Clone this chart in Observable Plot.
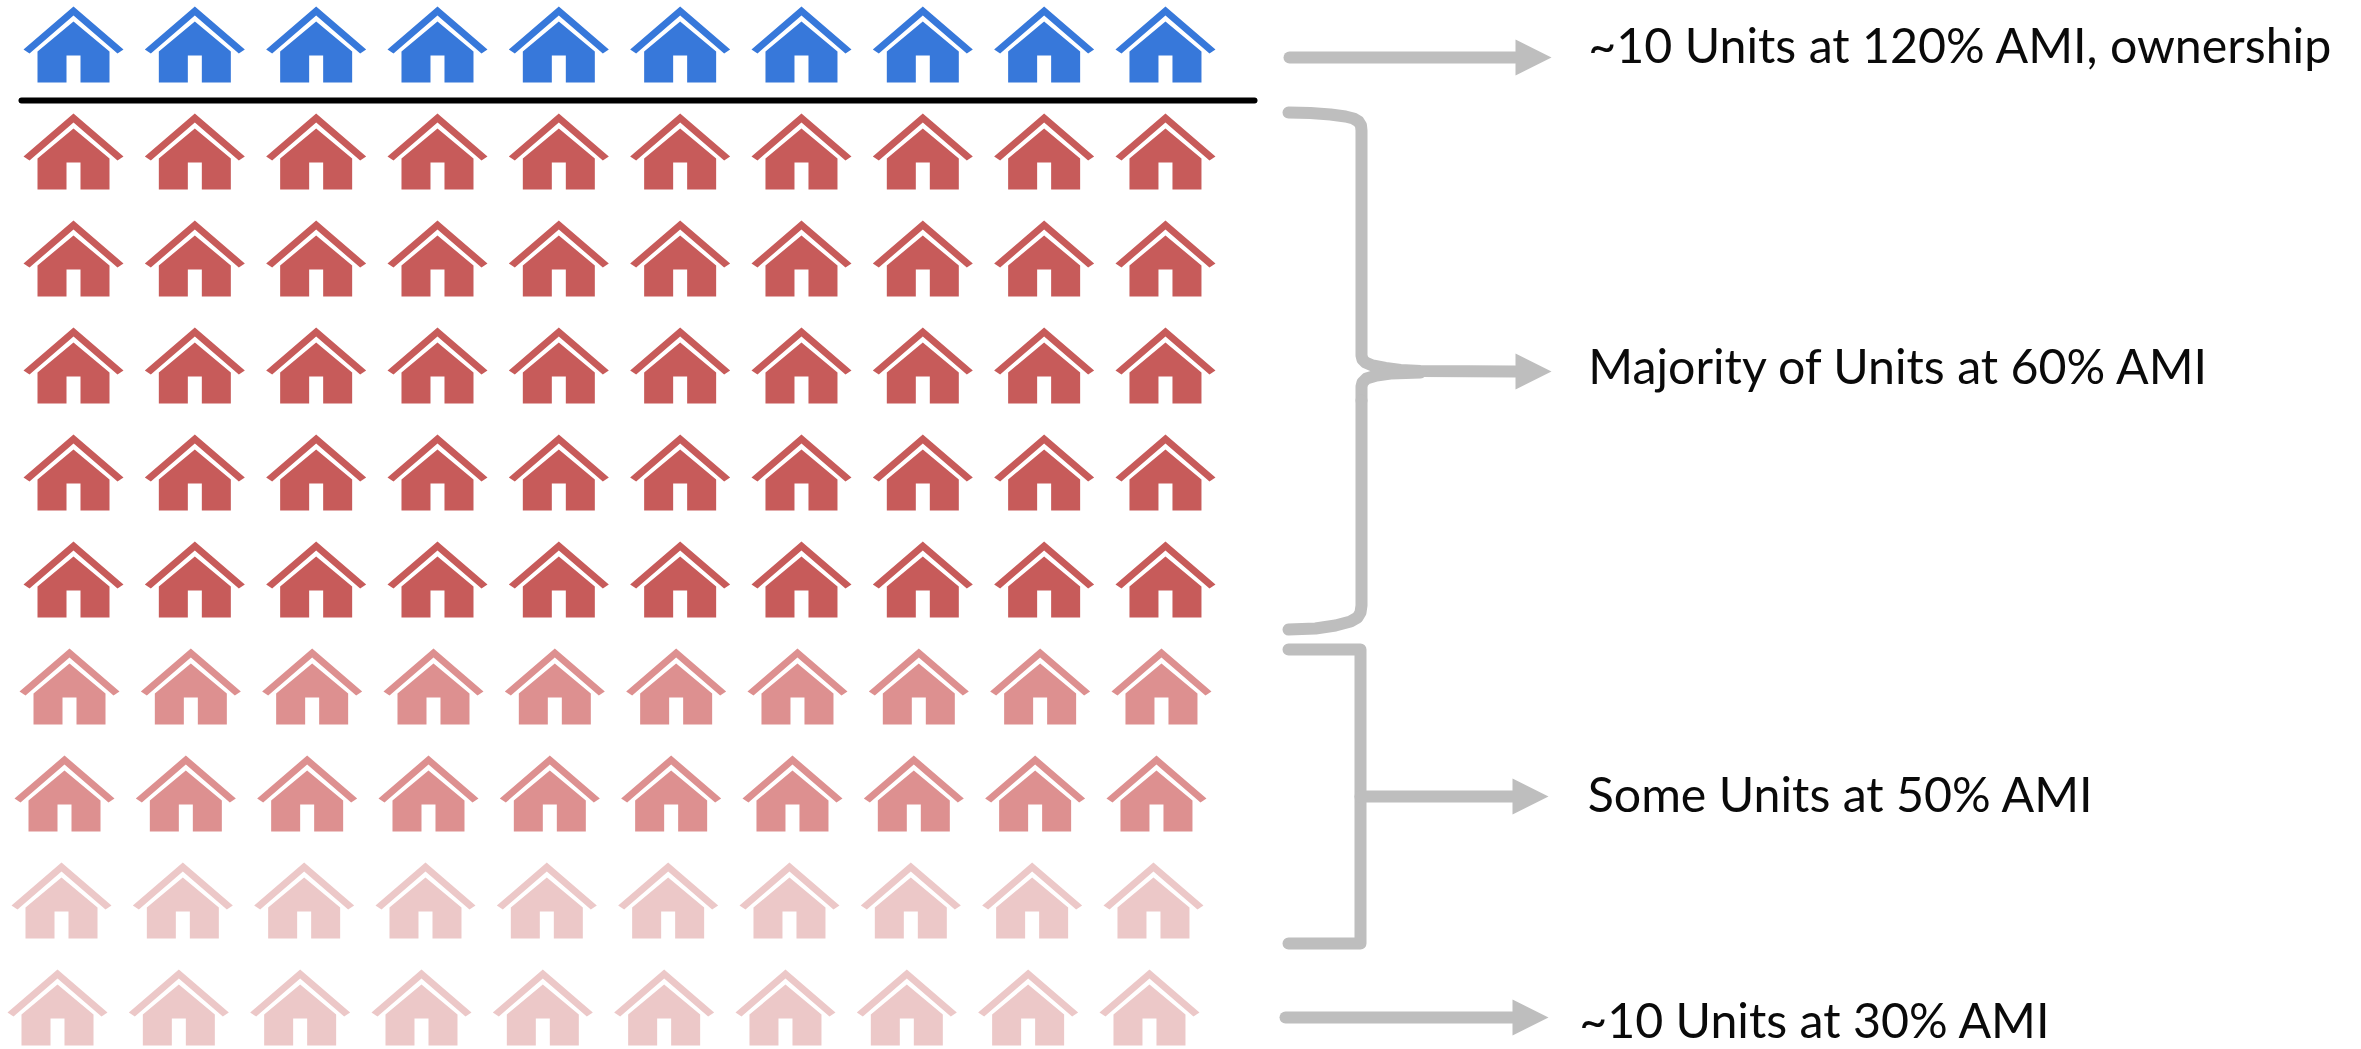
<!DOCTYPE html>
<html>
<head>
<meta charset="utf-8">
<script src="https://cdn.jsdelivr.net/npm/d3@7"></script>
<script src="https://cdn.jsdelivr.net/npm/@observablehq/plot@0.6"></script>
<style>
  html, body { margin: 0; padding: 0; background: #fff; }
  svg { display: block; }
</style>
</head>
<body>
<div id="chart"></div>
<script>
// One pictogram row per block of ten homes, top to bottom.
const columns = d3.range(10);
const rowShades = ["ownership", "deep", "deep", "deep", "deep", "deep", "mid", "mid", "pale", "pale"];
const shadeNames = ["ownership", "deep", "mid", "pale"];
const shadeColors = ["#3778da", "#c75b5a", "#dd9090", "#ecc8c8"];

// Horizontal drift of each row, in pixels.
const rowNudge = [0, 0, 0, 0, 0, 0, -4, -9, -12, -16];

const labels = ["~10 Units at 120% AMI, ownership", "Majority of Units at 60% AMI", "Some Units at 50% AMI", "~10 Units at 30% AMI"];
const labelRows = [0.03, 3.03, 7.03, 9.14];
const labelCols = [12.485, 12.485, 12.48, 12.41];

const homes = rowShades.flatMap((shade, row) => columns.map((col) => ({col, row, shade})));

// Pixel mapping of the grid: column centres and row centres.
const colStep = 121.33, rowStep = 107;
const colOf = (px) => (px - 73) / colStep;
const rowOf = (py) => (py - 44) / rowStep;

// Home glyph: chevron roof above a body with a door notch, 100px wide.
const house = {
  draw(ctx, size) {
    const k = Math.sqrt(size) / 100;
    const poly = (pts) => {
      pts.forEach(([a, b], i) => (i ? ctx.lineTo(a * k, b * k) : ctx.moveTo(a * k, b * k)));
      ctx.closePath();
    };
    poly([[0, -38], [50, 5], [44, 9], [0, -29], [-44, 9], [-50, 5]]);
    poly([[0, -23], [36, 7], [36, 38], [7, 38], [7, 11], [-7, 11], [-7, 38], [-36, 38], [-36, 7]]);
  }
};

// Arrow head pointing right, tip at +18, base at -18.
const head = {
  draw(ctx, size) {
    const k = Math.sqrt(size) / 36;
    ctx.moveTo(18 * k, 0);
    ctx.lineTo(-18 * k, -18 * k);
    ctx.lineTo(-18 * k, 18 * k);
    ctx.closePath();
  }
};

const gray = "#bebebe";
const P = ([px, py]) => ({c: colOf(px), r: rowOf(py)});

// Bracket and arrow shafts, given as anchor points along each stroke.
const upperBrace = [[1288, 112], [1310, 112.5], [1330, 114], [1345, 116], [1353, 118], [1358, 121], [1360.5, 125], [1361, 130], [1361, 355], [1362, 359], [1365, 362], [1372, 365], [1385, 367.5], [1400, 369.5], [1420, 370.5], [1515, 371]].map(P);
const lowerStub = [[1361, 400], [1361, 386], [1362, 382], [1366, 378], [1376, 375], [1390, 373], [1420, 372]].map(P);
const upperTail = [[1361, 400], [1361, 605], [1360, 612], [1357, 617], [1350, 621], [1335, 625], [1315, 628], [1288, 629]].map(P);
const square = [[1288, 649], [1360, 649], [1360, 943], [1288, 943]].map(P);
const branch = [[1360, 796], [1515, 796]].map(P);
const topShaft = [[1289, 57], [1515, 57]].map(P);
const bottomShaft = [[1285, 1017], [1515, 1017]].map(P);
const heads = [[1533, 57], [1533, 371], [1530, 796], [1530, 1017]].map(P);
const divider = [[21, 100], [1254, 100]].map(P);

const shaft = (pts) =>
  Plot.line(pts, {x: "c", y: "r", stroke: gray, strokeWidth: 12, strokeLinecap: "round", strokeLinejoin: "round"});

const chart = Plot.plot({
  width: 2361,
  height: 1049,
  margin: 0,
  style: {background: "#fff"},
  x: {domain: [colOf(0), colOf(2361)], range: [0, 2361], axis: null},
  y: {domain: [rowOf(0), rowOf(1049)], range: [0, 1049], axis: null},
  color: {domain: shadeNames, range: shadeColors},
  marks: [
    ...rowShades.map((_, row) =>
      Plot.dot(homes.filter((d) => d.row === row), {
        x: "col", y: "row", fill: "shade", stroke: "none",
        symbol: house, r: 100 / Math.sqrt(Math.PI), dx: rowNudge[row]
      })
    ),
    Plot.line(divider, {x: "c", y: "r", stroke: "#000", strokeWidth: 6, strokeLinecap: "round"}),
    shaft(upperBrace),
    shaft(lowerStub),
    shaft(upperTail),
    shaft(square),
    shaft(branch),
    shaft(topShaft),
    shaft(bottomShaft),
    Plot.dot(heads, {x: "c", y: "r", fill: gray, stroke: "none", symbol: head, r: 36 / Math.sqrt(Math.PI)}),
    Plot.text(labels, {
      x: (_, i) => labelCols[i], y: (_, i) => labelRows[i], text: (d) => d,
      textAnchor: "start", fontFamily: "Lato", fontSize: 48.3, fill: "#0a0a0a"
    })
  ]
});
document.getElementById("chart").append(chart);
</script>
</body>
</html>
